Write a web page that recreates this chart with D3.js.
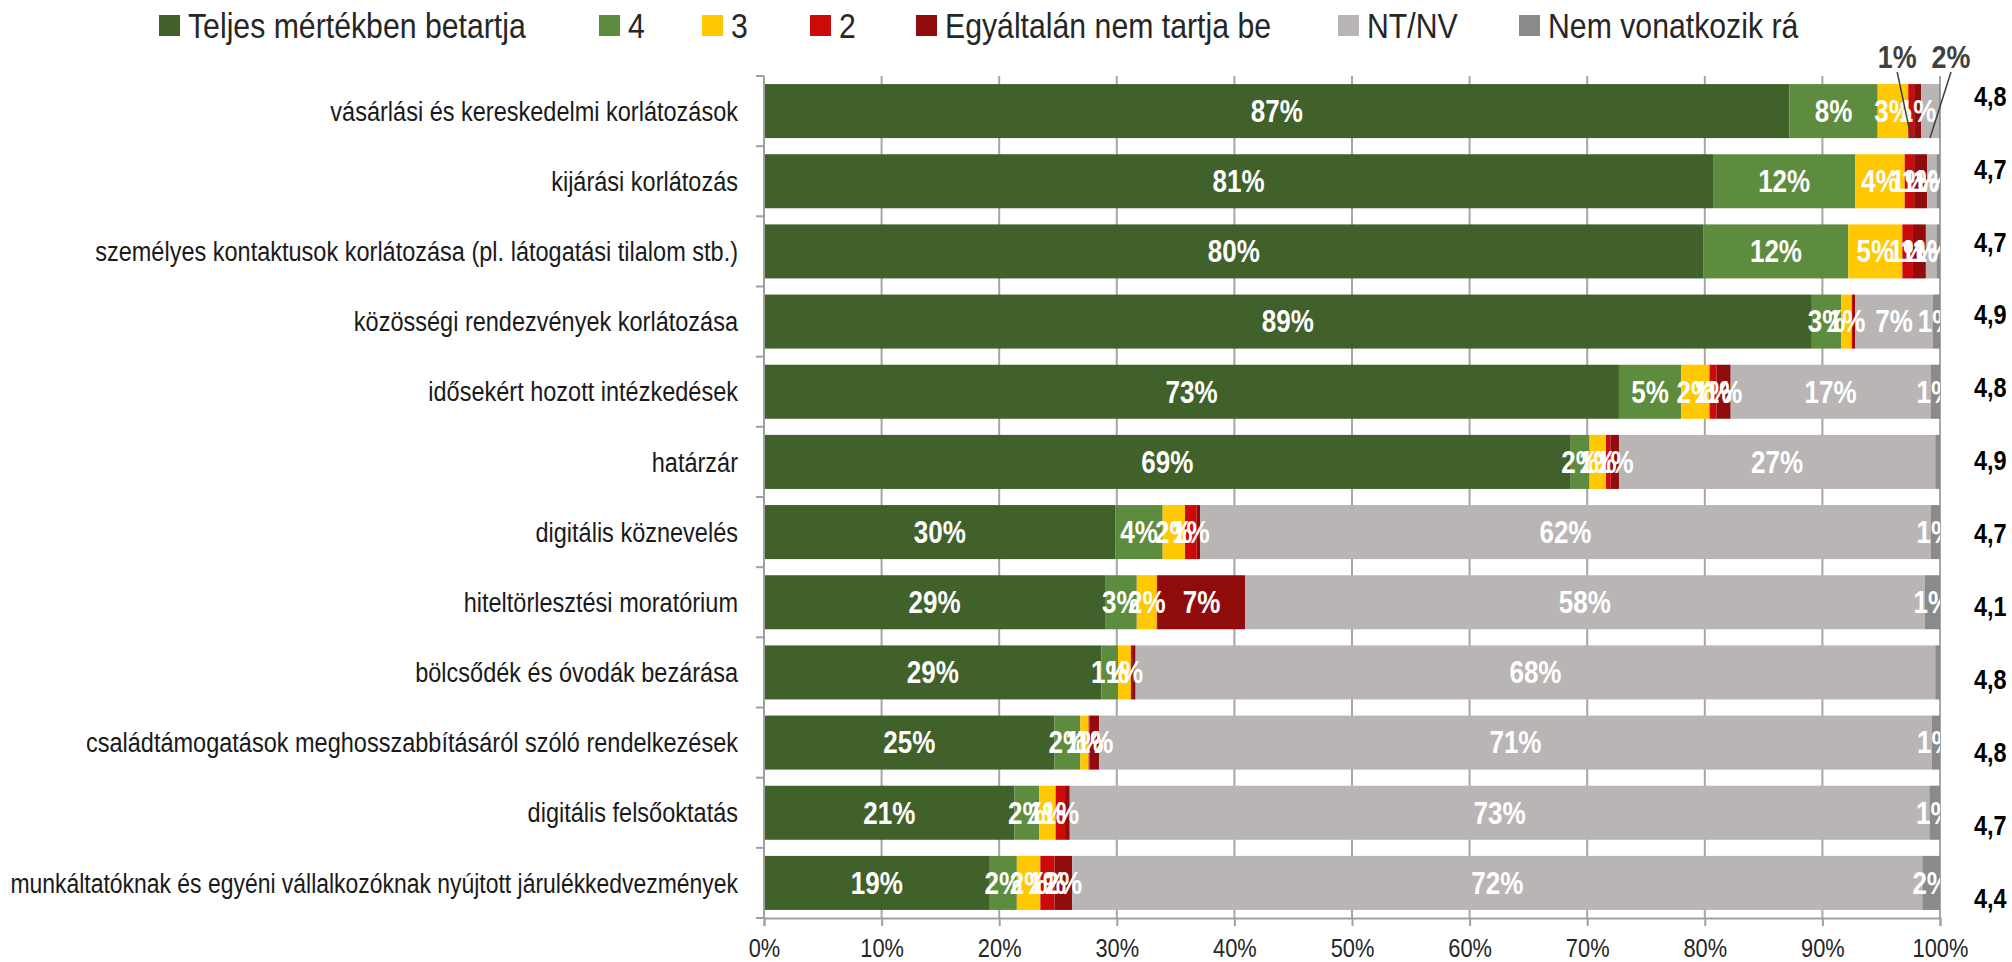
<!DOCTYPE html>
<html>
<head>
<meta charset="utf-8">
<script src="https://cdn.jsdelivr.net/npm/d3@7"></script>
<style>
  body { margin: 0; background: #fff; }
  text { font-family: 'Liberation Sans', Arial, sans-serif; }
</style>
</head>
<body>
<div id="chart"></div>
<script>
// categories, top to bottom
var categories = [
  'vásárlási és kereskedelmi korlátozások',
  'kijárási korlátozás',
  'személyes kontaktusok korlátozása (pl. látogatási tilalom stb.)',
  'közösségi rendezvények korlátozása',
  'idősekért hozott intézkedések',
  'határzár',
  'digitális köznevelés',
  'hiteltörlesztési moratórium',
  'bölcsődék és óvodák bezárása',
  'családtámogatások meghosszabbításáról szóló rendelkezések',
  'digitális felsőoktatás',
  'munkáltatóknak és egyéni vállalkozóknak nyújtott járulékkedvezmények'
];

var seriesNames = ['Teljes mértékben betartja', '4', '3', '2', 'Egyáltalán nem tartja be', 'NT/NV', 'Nem vonatkozik rá'];
var seriesColors = ['#41612b', '#5e8c3e', '#ffc800', '#cc0a0a', '#900b0c', '#b9b5b4', '#8a8a8a'];

// shares in percent, one value per category
var full          = [87.2, 80.7, 79.9, 89.1, 72.7, 68.6, 29.9, 29.0, 28.7, 24.7, 21.3, 19.2];
var four          = [7.5, 12.1, 12.3, 2.5, 5.3, 1.6, 4.0, 2.7, 1.4, 2.2, 2.1, 2.3];
var three         = [2.6, 4.2, 4.6, 0.9, 2.4, 1.4, 1.9, 1.7, 1.1, 0.7, 1.4, 2.0];
var two           = [0.5, 0.8, 0.9, 0.1, 0.6, 0.4, 1.0, 0.1, 0.1, 0.1, 0.8, 1.2];
var never         = [0.6, 1.1, 1.1, 0.2, 1.2, 0.7, 0.3, 7.4, 0.3, 0.8, 0.4, 1.5];
var ntnv          = [1.5, 0.8, 0.9, 6.6, 17.0, 26.9, 62.1, 57.8, 68.0, 70.8, 73.1, 72.3];
var notApplicable = [0.1, 0.3, 0.3, 0.6, 0.8, 0.4, 0.8, 1.3, 0.4, 0.7, 0.9, 1.5];

// average score shown right of the bars
var averages = [4.8, 4.7, 4.7, 4.9, 4.8, 4.9, 4.7, 4.1, 4.8, 4.8, 4.7, 4.4];

var xTicks = [0, 10, 20, 30, 40, 50, 60, 70, 80, 90, 100];

// labels moved above the first bar with a leader line: [category index, series index, shift]
var calloutLabels = [[0, 3, -14], [0, 5, 21]];

var w = 2012, h = 962;
var plot = { left: 764, right: 1940, top: 76, bottom: 918 };
var squeeze = 0.84; // the original uses a narrow font, so text is squeezed horizontally
var maxLabelWidth = 728; // longest category label must still fit left of the axis
var legendX = [159, 599, 702, 810, 916, 1338, 1519]; // left edge of each legend swatch

var keys = ['s0', 's1', 's2', 's3', 's4', 's5', 's6'];
var allSeries = [full, four, three, two, never, ntnv, notApplicable];
var rows = categories.map(function (c, i) {
  var r = { cat: c };
  keys.forEach(function (k, j) { r[k] = allSeries[j][i]; });
  return r;
});

var svg = d3.select('#chart').append('svg')
  .attr('width', w)
  .attr('height', h);

var x = d3.scaleLinear().domain([0, 100]).range([plot.left, plot.right]);
var y = d3.scaleBand().domain(categories)
  .range([plot.top, plot.bottom])
  .paddingInner(0.23)
  .paddingOuter(0.115);
var yAvg = d3.scalePoint().domain(categories).range([96, 898]);

// vertical gridlines
svg.append('g').selectAll('line')
  .data(xTicks)
  .enter().append('line')
  .attr('x1', function (d) { return x(d); })
  .attr('x2', function (d) { return x(d); })
  .attr('y1', plot.top)
  .attr('y2', plot.bottom)
  .attr('stroke', '#a6a6a6')
  .attr('stroke-width', 2);

// stacked bars
var stacked = d3.stack().keys(keys)(rows);

var layers = svg.append('g').selectAll('g')
  .data(stacked)
  .enter().append('g')
  .attr('fill', function (d, i) { return seriesColors[i]; });

layers.selectAll('rect')
  .data(function (d) { return d; })
  .enter().append('rect')
  .attr('x', function (d) { return x(d[0]); })
  .attr('y', function (d) { return y(d.data.cat); })
  .attr('width', function (d) { return x(d[1]) - x(d[0]); })
  .attr('height', y.bandwidth());

// left axis with ticks on the category boundaries
var yAxis = svg.append('g');
yAxis.append('line')
  .attr('x1', plot.left).attr('x2', plot.left)
  .attr('y1', plot.top).attr('y2', plot.bottom)
  .attr('stroke', '#a0a0a0').attr('stroke-width', 2);
yAxis.selectAll('.tick')
  .data(d3.range(categories.length + 1))
  .enter().append('line')
  .attr('x1', plot.left - 8).attr('x2', plot.left)
  .attr('y1', function (k) { return plot.top + k * y.step(); })
  .attr('y2', function (k) { return plot.top + k * y.step(); })
  .attr('stroke', '#a0a0a0').attr('stroke-width', 2);

yAxis.selectAll('text')
  .data(categories)
  .enter().append('text')
  .attr('text-anchor', 'end')
  .attr('dominant-baseline', 'central')
  .attr('font-size', 28)
  .attr('fill', '#1a1a1a')
  .text(function (d) { return d; })
  .attr('transform', function (d) {
    //squeeze a bit more if the label would run off the left edge
    var len = this.getComputedTextLength();
    var sx = Math.min(squeeze, maxLabelWidth / len);
    return translation(plot.left - 26, y(d) + y.bandwidth() / 2) + ' scale(' + sx + ',1)';
  });

// bottom axis
var xAxis = svg.append('g')
  .attr('transform', translation(0, plot.bottom))
  .call(d3.axisBottom(x)
    .tickValues(xTicks)
    .tickSize(8)
    .tickPadding(13)
    .tickFormat(function (d) { return d + '%'; }));
xAxis.attr('font-family', null);
xAxis.select('.domain').attr('stroke', '#a0a0a0').attr('stroke-width', 2);
xAxis.selectAll('.tick line').attr('stroke', '#a0a0a0').attr('stroke-width', 2);
xAxis.selectAll('.tick text')
  .attr('transform', 'scale(' + squeeze + ',1)')
  .attr('font-size', 26)
  .attr('fill', '#262626');

// data labels, clipped to the plot area
svg.append('clipPath').attr('id', 'plotClip')
  .append('rect')
  .attr('x', plot.left).attr('y', plot.top)
  .attr('width', plot.right - plot.left)
  .attr('height', plot.bottom - plot.top);

function isCallout(row, s) {
  return calloutLabels.some(function (c) { return c[0] === row && c[1] === s; });
}

var labelData = [];
stacked.forEach(function (layer, s) {
  layer.forEach(function (d, i) {
    var v = d[1] - d[0];
    if (v >= 0.5 && !isCallout(i, s)) {
      labelData.push({ cat: d.data.cat, mid: (d[0] + d[1]) / 2, v: allSeries[s][i] });
    }
  });
});

svg.append('g')
  .attr('clip-path', 'url(#plotClip)')
  .selectAll('text')
  .data(labelData)
  .enter().append('text')
  .attr('transform', function (d) { return narrowAt(x(d.mid), y(d.cat) + y.bandwidth() / 2); })
  .attr('text-anchor', 'middle')
  .attr('dominant-baseline', 'central')
  .attr('font-size', 31)
  .attr('font-weight', 'bold')
  .attr('fill', '#fff')
  .text(function (d) { return Math.round(d.v) + '%'; });

// callouts above the first bar
var callouts = svg.append('g');
calloutLabels.forEach(function (c) {
  var seg = stacked[c[1]][c[0]];
  var mid = x((seg[0] + seg[1]) / 2);
  var tx = mid + c[2];
  callouts.append('line')
    .attr('x1', tx).attr('y1', plot.top - 4)
    .attr('x2', mid).attr('y2', y(categories[c[0]]) + y.bandwidth())
    .attr('stroke', '#404040').attr('stroke-width', 1.5);
  callouts.append('text')
    .attr('transform', narrowAt(tx, plot.top - 19))
    .attr('text-anchor', 'middle')
    .attr('dominant-baseline', 'central')
    .attr('font-size', 32)
    .attr('font-weight', 'bold')
    .attr('fill', '#404040')
    .text(Math.round(allSeries[c[1]][c[0]]) + '%');
});

// averages column
svg.append('g').selectAll('text')
  .data(categories)
  .enter().append('text')
  .attr('transform', function (d) { return narrowAt(1974, yAvg(d)); })
  .attr('dominant-baseline', 'central')
  .attr('font-size', 28)
  .attr('font-weight', 'bold')
  .attr('fill', '#000')
  .text(function (d, i) { return String(averages[i]).replace('.', ','); });

// legend
var legend = svg.append('g').attr('transform', translation(0, 26));
seriesNames.forEach(function (name, i) {
  var item = legend.append('g').attr('transform', translation(legendX[i], 0));
  item.append('rect')
    .attr('x', 0).attr('y', -11)
    .attr('width', 21).attr('height', 21)
    .attr('fill', seriesColors[i]);
  item.append('text')
    .attr('transform', narrowAt(29, 0))
    .attr('dominant-baseline', 'central')
    .attr('font-size', 36)
    .attr('fill', '#262626')
    .text(name);
});

//used to translate during transformation
function translation(x, y) {
  return 'translate(' + x + ',' + y + ')';
}

//places a text at x,y and squeezes it like a narrow font
function narrowAt(x, y) {
  return translation(x, y) + ' scale(' + squeeze + ',1)';
}
</script>
</body>
</html>
